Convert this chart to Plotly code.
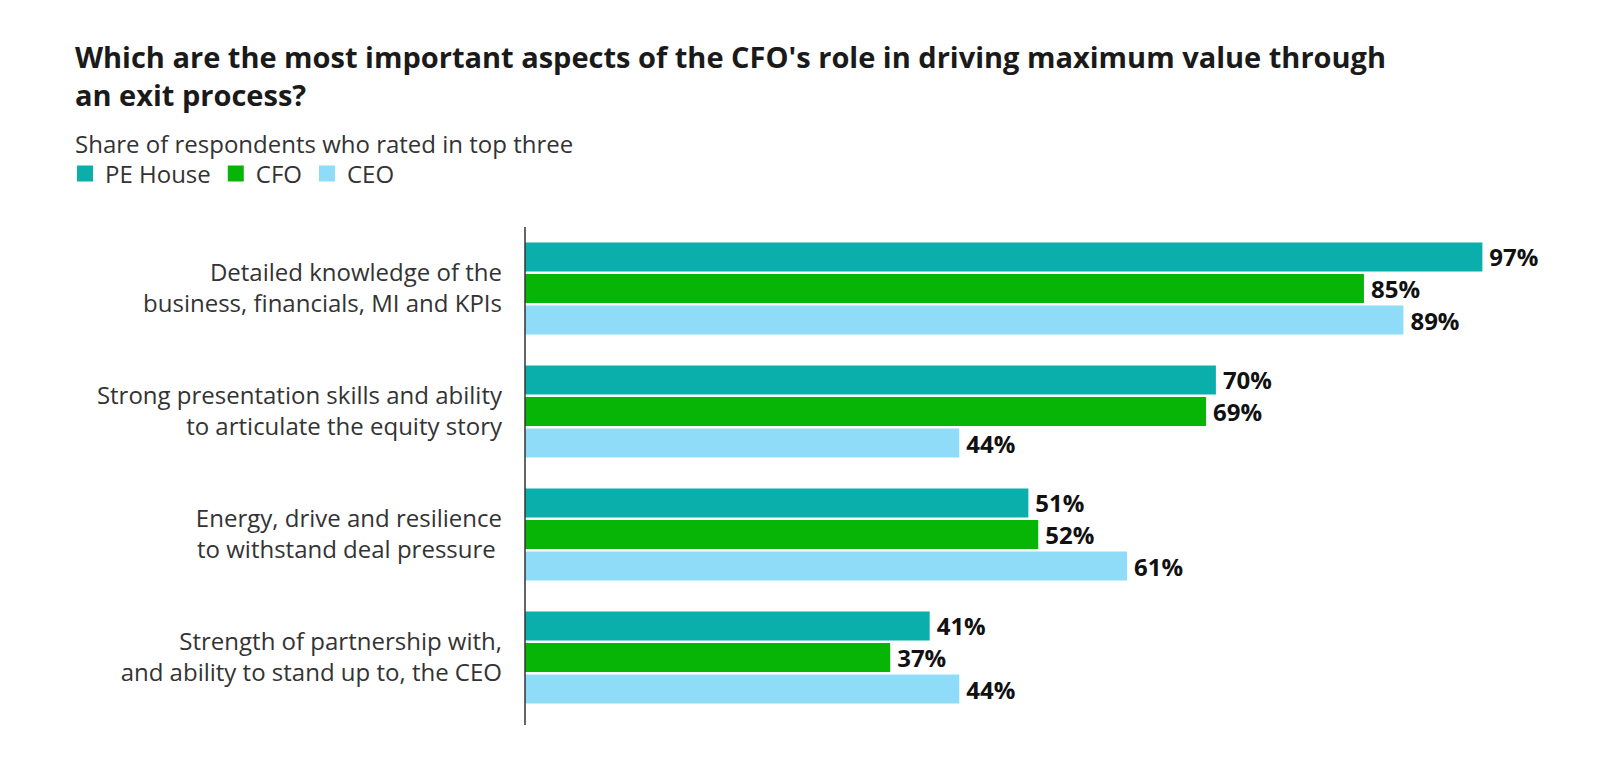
import plotly.graph_objects as go

categories = [
    "Detailed knowledge of the<br>business, financials, MI and KPIs",
    "Strong presentation skills and ability<br>to articulate the equity story",
    "Energy, drive and resilience<br>to withstand deal pressure ",
    "Strength of partnership with,<br>and ability to stand up to, the CEO",
]
series_names = ["PE House", "CFO", "CEO"]
pe_house = [97, 70, 51, 41]
cfo = [85, 69, 52, 37]
ceo = [89, 44, 61, 44]
colors = ["#0aafac", "#07b507", "#8fdcf9"]

W, H = 1606, 771
FONT = "Open Sans"
L, R, T, B = 517, 102, 219, 60
PH = H - T - B

fig = go.Figure()
for name, vals, col in zip(series_names, [pe_house, cfo, ceo], colors):
    fig.add_trace(go.Bar(
        y=categories, x=vals, name=name, orientation="h", showlegend=False,
        marker=dict(color=col, line=dict(width=0)),
        text=[f"\u2009{v}%" for v in vals], textposition="outside",
        constraintext="none",
        textfont=dict(family=FONT, size=24, color="#111111", weight="bold"),
        cliponaxis=False,
    ))
# legend entries (square swatches)
for name, col in zip(series_names, colors):
    fig.add_trace(go.Scatter(
        x=[None], y=[None], mode="markers", name=name,
        marker=dict(symbol="square", size=18, color=col),
    ))

fig.update_layout(
    width=W, height=H,
    paper_bgcolor="white", plot_bgcolor="white",
    barmode="group", bargap=0.23, bargroupgap=0.08,
    margin=dict(l=L, r=R, t=T, b=B),
    title=dict(
        text="<b>Which are the most important aspects of the CFO's role in driving maximum value through<br>an exit process?</b>",
        x=67 / W, xanchor="left", xref="container",
        y=1 - 60 / H, yanchor="top", yref="container",
        font=dict(family=FONT, size=29, color="#1a1a1a"),
    ),
    annotations=[dict(
        text="Share of respondents who rated in top three",
        xref="paper", yref="paper",
        x=(65 - L) / (W - L - R), y=1 + (T - 135) / PH,
        xanchor="left", yanchor="middle", showarrow=False,
        font=dict(family=FONT, size=24, color="#333333"),
    )],
    shapes=[dict(
        type="line", xref="paper", yref="paper",
        x0=0, x1=0, y0=-6 / PH, y1=1,
        line=dict(color="#333333", width=1.5),
    )],
    legend=dict(
        orientation="h", xref="container", yref="container",
        x=57 / W, y=1 - 166 / H, xanchor="left", yanchor="middle",
        font=dict(family=FONT, size=24, color="#333333"),
        itemwidth=30, traceorder="normal", bgcolor="rgba(0,0,0,0)",
    ),
    xaxis=dict(range=[0, 100], visible=False, fixedrange=True),
    yaxis=dict(
        autorange="reversed", showline=False,
        ticks="", ticklabelstandoff=22,
        tickfont=dict(family=FONT, size=24, color="#333333"),
        showgrid=False, zeroline=False,
    ),
)

fig.write_html("out.html")
